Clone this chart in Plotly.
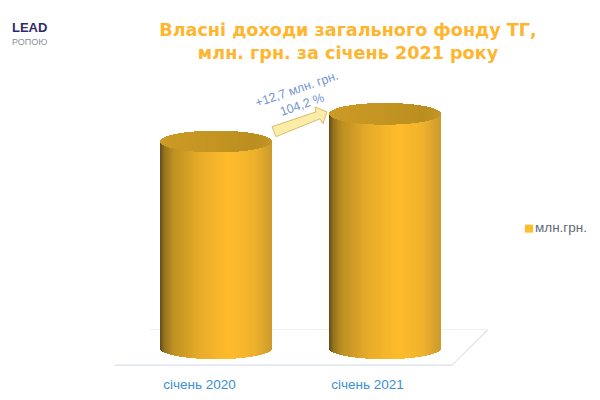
import numpy as np
import plotly.graph_objects as go

# ---- data ----
categories = ["січень 2020", "січень 2021"]
values = [302.4, 315.1]
series_name = "млн.грн."
title_lines = ["Власні доходи загального фонду ТГ,", "млн. грн. за січень 2021 року"]
note_lines = ["+12,7 млн. грн.", "104,2 %"]
axis_floor = 207.6

# ---- layout constants (page pixels; the page body has an 8 px margin) ----
PAGE = 8
W, H = 584, 384
plot_bottom = 378
px_per_unit = 2.205
base_px = 352
centers = [216.5, 385]
tick_pos = [199.5, 367.5]
rx, ry_px = 55.5, 11
ry = ry_px / px_per_unit
y_min = axis_floor - (plot_bottom - base_px) / px_per_unit
y_max = axis_floor + (base_px - PAGE) / px_per_unit

side_stops = [(0, (96, 76, 24)), (0.04, (150, 115, 30)), (0.12, (190, 145, 34)),
              (0.35, (232, 172, 42)), (0.62, (255, 188, 44)), (0.85, (240, 178, 44)),
              (1, (205, 155, 45))]
top_stops = [(0, (205, 155, 38)), (0.5, (196, 149, 34)), (0.85, (186, 142, 32)), (1, (195, 150, 40))]


def ramp(stops, t):
    xs = [s[0] for s in stops]
    return "rgb(%d,%d,%d)" % tuple(np.interp(t, xs, [s[1][i] for s in stops]) for i in range(3))


def py(p):
    return 1 - (p - PAGE) / (plot_bottom - PAGE)


fig = go.Figure()
for cx, v in zip(centers, values):
    xs = np.arange(cx - rx + 0.5, cx + rx, 1.0)
    u = (xs - cx) / rx
    arc = ry * np.sqrt(1 - u ** 2)
    t = (u + 1) / 2
    fig.add_bar(x=xs, y=(v - arc) - (axis_floor - arc), base=axis_floor - arc, width=1.4,
                marker=dict(color=[ramp(side_stops, a) for a in t], line_width=0),
                showlegend=False, hoverinfo="skip")
    fig.add_bar(x=xs, y=2 * arc, base=v - arc, width=1.4,
                marker=dict(color=[ramp(top_stops, a) for a in t], line_width=0),
                showlegend=False, hoverinfo="skip")

# legend key and text
legend_y = axis_floor + (base_px - 231) / px_per_unit
fig.add_scatter(x=[529], y=[legend_y], mode="markers+text", text=[series_name],
                textposition="middle right", name=series_name, showlegend=False,
                marker=dict(symbol="square", size=8, color="#FFBC2C"),
                textfont=dict(family="Liberation Sans", size=13.5, color="#5F6B7A"))

# floor of the 3D chart
for (x0, y0, x1, y1, c) in [(115, 369, 452, 369, "#D8DEE7"), (452, 369, 488, 333, "#E0E5EC"),
                            (150, 333, 488, 333, "#EEF1F4")]:
    fig.add_shape(type="line", xref="x", yref="paper", x0=x0, x1=x1, y0=py(y0), y1=py(y1),
                  line=dict(color=c, width=1.2), layer="below")

# arrow between the cylinders
arrow = [(272, 128), (316, 113), (315, 108), (327, 113), (323, 125), (320, 120), (276, 138)]
path = "M" + " L".join(f"{x},{py(y):.4f}" for x, y in arrow) + " Z"
fig.add_shape(type="path", xref="x", yref="paper", path=path,
              fillcolor="#FBEDA8", line=dict(color="#D9BC6A", width=1))


def label(x, y, text, **font):
    fig.add_annotation(x=x, y=py(y), xref="x", yref="paper", showarrow=False, text=text,
                       xanchor="center", yanchor="middle", font=font)


fig.add_annotation(x=299, y=py(98), xref="x", yref="paper", showarrow=False,
                   xanchor="center", yanchor="middle",
                   text="<br>".join(note_lines), textangle=-19,
                   font=dict(family="Liberation Sans", size=12.5, color="#7396CF"))
# logo
label(29, 28, "<b>LEAD</b>", family="Liberation Sans", size=13, color="#2F2B6B")
label(29, 42, "РОПОЮ", family="Liberation Sans", size=9, color="#8A8F9C")

fig.update_layout(
    width=W, height=H, autosize=False, barmode="overlay", bargap=0,
    margin=dict(l=0, r=0, t=0, b=H - (plot_bottom - PAGE)),
    paper_bgcolor="white", plot_bgcolor="white",
    title=dict(text="<b>" + "<br>".join(title_lines) + "</b>", x=(348 - PAGE) / W, xanchor="center",
               y=1 - (36 - PAGE) / H, yanchor="middle",
               font=dict(family="DejaVu Sans", size=17.6, color="#FFB52E")),
    xaxis=dict(range=[PAGE, PAGE + W], tickmode="array", tickvals=tick_pos, ticktext=categories,
               showgrid=False, zeroline=False, showline=False, ticks="",
               tickfont=dict(family="Liberation Sans", size=13.5, color="#3C8FD2")),
    yaxis=dict(range=[y_min, y_max], visible=False),
    showlegend=False,
)
fig.write_html("out.html")
